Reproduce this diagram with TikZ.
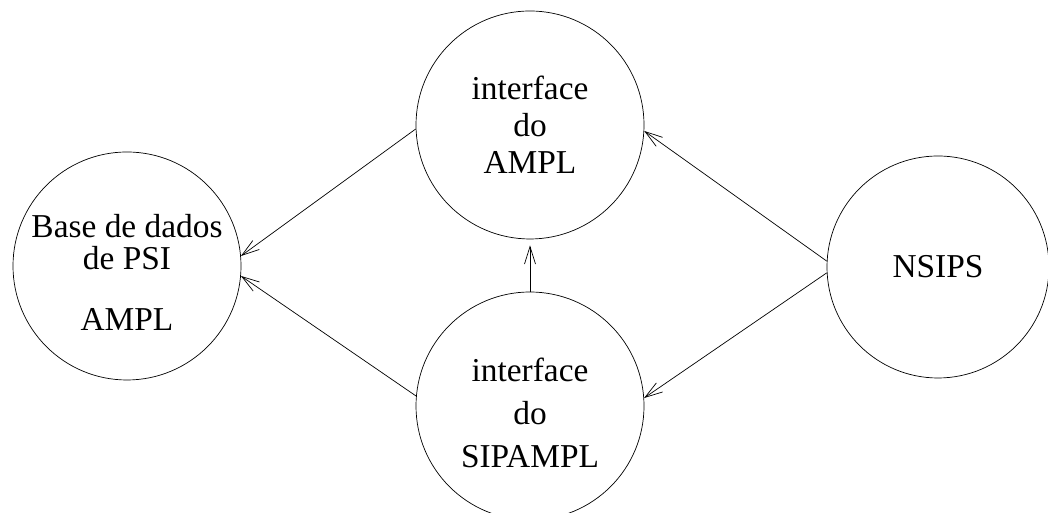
\documentclass[tikz,border=0pt]{standalone}
\usepackage{fontspec}
\setmainfont{Liberation Serif}
\usetikzlibrary{arrows.meta}

\begin{document}
\begin{tikzpicture}[
  blob/.style={circle, draw, thin, minimum size=4.56cm, inner sep=0pt},
  words/.style={align=center, inner sep=0pt, font=\fontsize{19}{21}\selectfont},
  flow/.style={thin, -{Straight Barb[length=3.5mm,width=2.2mm]}}
]
\useasboundingbox (0,0) rectangle (20.96,10.26);
\node[blob] (base) at (2.54,4.94) {};
\node[blob] (ampl) at (10.6,7.76) {};
\node[blob] (sip) at (10.6,2.14) {};
\node[blob, minimum size=4.44cm] (nsips) at (18.76,4.92) {};
\node[words] (basetext) at ([yshift=-0.12cm]base.center) {Base de dados\\[-2.8pt]de PSI\\[13.7pt]AMPL};
\node[words] (ampltext) at (ampl.center) {interface\\do\\AMPL};
\node[words] (siptext) at ([yshift=-0.14cm]sip.center) {interface\\[3.5pt]do\\[3.5pt]SIPAMPL};
\node[words] (nsipstext) at (nsips.center) {NSIPS};
\draw[flow] (ampl.182) -- (base.5);
\draw[flow] (sip.175.5) -- (base.355.6);
\draw[flow, shorten >=0.12cm] (sip.north) -- (ampl.south);
\draw[flow] (nsips.177) -- (ampl.-3.4);
\draw[flow] (nsips.183) -- (sip.4.4);
\end{tikzpicture}
\end{document}
